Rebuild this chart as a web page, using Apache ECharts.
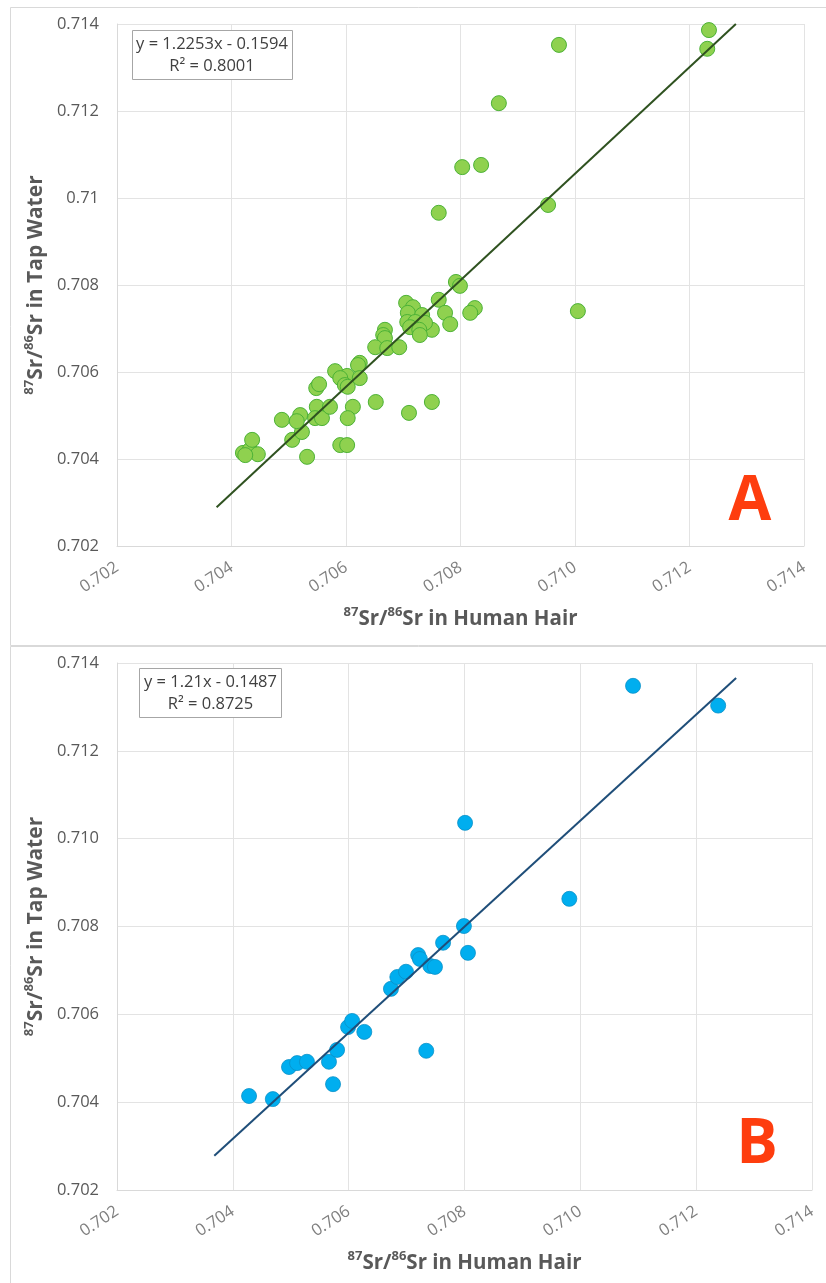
<!DOCTYPE html>
<html><head><meta charset="utf-8">
<script src="https://cdn.jsdelivr.net/npm/echarts@6/dist/echarts.min.js"></script>
<style>html,body{margin:0;padding:0;background:#fff}#c{width:826px;height:1283px}</style>
</head><body><div id="c"></div>
<script>
// Panel A: 87Sr/86Sr hair (x) vs tap water (y)
const hairA = [0.71234,0.71231,0.70972,0.70867,0.70803,0.70836,0.70762,0.70953,0.71005,0.70792,
  0.70799,0.70762,0.70825,0.70817,0.70773,0.70782,0.70750,0.70710,0.70750,0.70705,
  0.70717,0.70708,0.70733,0.70707,0.70721,0.70738,0.70712,0.70728,0.70729,0.70668,
  0.70665,0.70668,0.70651,0.70672,0.70693,0.70624,0.70420,0.70432,0.70436,0.70446,
  0.70424,0.70488,0.70532,0.70506,0.70523,0.70520,0.70514,0.70548,0.70553,0.70549,
  0.70546,0.70558,0.70572,0.70581,0.70602,0.70590,0.70598,0.70603,0.70621,0.70624,
  0.70612,0.70603,0.70590,0.70602,0.70652];
const waterA = [0.71386,0.71343,0.71352,0.71218,0.71071,0.71076,0.70966,0.70984,0.70740,0.70807,
  0.70798,0.70766,0.70747,0.70736,0.70736,0.70710,0.70697,0.70506,0.70531,0.70759,
  0.70749,0.70736,0.70731,0.70715,0.70715,0.70713,0.70703,0.70697,0.70685,0.70697,
  0.70685,0.70678,0.70657,0.70655,0.70657,0.70621,0.70414,0.70421,0.70444,0.70411,
  0.70409,0.70490,0.70405,0.70444,0.70462,0.70501,0.70487,0.70563,0.70572,0.70520,
  0.70494,0.70494,0.70520,0.70602,0.70591,0.70586,0.70570,0.70566,0.70616,0.70586,
  0.70520,0.70494,0.70432,0.70432,0.70531];
// Panel B
const hairB = [0.70428,0.70469,0.70497,0.70511,0.70528,0.70566,0.70580,0.70573,0.70599,0.70606,
  0.70627,0.70673,0.70684,0.70699,0.70720,0.70723,0.70741,0.70749,0.70763,0.70799,
  0.70806,0.70734,0.70801,0.70981,0.71091,0.71238];
const waterB = [0.70414,0.70407,0.70480,0.70489,0.70492,0.70492,0.70519,0.70441,0.70571,0.70585,
  0.70560,0.70658,0.70685,0.70697,0.70735,0.70726,0.70710,0.70708,0.70763,0.70801,
  0.70740,0.70517,0.71036,0.70863,0.71348,0.71303];
// Trendline endpoints as drawn (x, y)
const trendAx = [0.70374, 0.71281];
const trendAy = [0.70289, 0.71400];
const trendBx = [0.70368, 0.71269];
const trendBy = [0.70278, 0.71366];
// Tick labels
const xTicksA = ['0.702','0.704','0.706','0.708','0.710','0.712','0.714'];
const yTicksA = ['0.702','0.704','0.706','0.708','0.71','0.712','0.714'];
const xTicksB = ['0.702','0.704','0.706','0.708','0.710','0.712','0.714'];
const yTicksB = ['0.702','0.704','0.706','0.708','0.710','0.712','0.714'];
const eqA = ['y = 1.2253x - 0.1594', 'R² = 0.8001'];
const eqB = ['y = 1.21x - 0.1487', 'R² = 0.8725'];
const xTitle = ['87', 'Sr/', '86', 'Sr in Human Hair'];
const yTitle = ['87', 'Sr/', '86', 'Sr in Tap Water'];

const FONT = '"Open Sans", "DejaVu Sans", sans-serif';
const zip = (a, b) => a.map((v, i) => [v, b[i]]);
const fmt = (ticks) => (v) => ticks[Math.round((v - 0.702) / 0.002)] || '';
const titleRich = (s) => ({
  sup: {fontSize: 13, fontWeight: 'bold', color: '#595959', fontFamily: FONT, verticalAlign: 'top', lineHeight: 14},
  b: {fontSize: s, fontWeight: 'bold', color: '#595959', fontFamily: FONT, lineHeight: 26}
});
const titleStr = (t) => `{sup|${t[0]}}{b|${t[1]}}{sup|${t[2]}}{b|${t[3]}}`;

function xAxis(gi, ticks) {
  return {
    type: 'value', gridIndex: gi, min: 0.702, max: 0.714, interval: 0.002,
    name: titleStr(xTitle), nameLocation: 'middle', nameGap: 60,
    nameTextStyle: {rich: titleRich(20.5)},
    axisLine: {show: true, lineStyle: {color: '#d9d9d9', width: 1}},
    axisTick: {show: false},
    axisLabel: {formatter: fmt(ticks), rotate: 33, margin: 20, color: '#7f7f7f',
      fontSize: 16.5, fontFamily: FONT},
    splitLine: {show: true, lineStyle: {color: '#e3e3e3', width: 1}}
  };
}
function yAxis(gi, ticks) {
  return {
    type: 'value', gridIndex: gi, min: 0.702, max: 0.714, interval: 0.002,
    name: titleStr(yTitle), nameLocation: 'middle', nameGap: 55, nameRotate: 90,
    nameTextStyle: {rich: titleRich(21)},
    axisLine: {show: true, lineStyle: {color: '#d9d9d9', width: 1}},
    axisTick: {show: false},
    axisLabel: {formatter: fmt(ticks), margin: 18, color: '#595959',
      fontSize: 16.5, fontFamily: FONT},
    splitLine: {show: true, lineStyle: {color: '#e3e3e3', width: 1}}
  };
}

const chart = echarts.init(document.getElementById('c'), null, {renderer: 'canvas'});
chart.setOption({
  animation: false,
  backgroundColor: '#fff',
  grid: [
    {left: 117, right: 22, top: 24, height: 522},
    {left: 117, right: 14, top: 663, height: 527}
  ],
  xAxis: [xAxis(0, xTicksA), xAxis(1, xTicksB)],
  yAxis: [yAxis(0, yTicksA), yAxis(1, yTicksB)],
  series: [
    {type: 'scatter', xAxisIndex: 0, yAxisIndex: 0, data: zip(hairA, waterA),
      symbol: 'circle', symbolSize: 15, z: 2,
      itemStyle: {color: '#8fd14f', borderColor: '#4cb236', borderWidth: 1, opacity: 1}},
    {type: 'line', xAxisIndex: 0, yAxisIndex: 0, data: zip(trendAx, trendAy),
      showSymbol: false, symbol: 'none', z: 3, clip: true,
      lineStyle: {color: '#2f5220', width: 2}},
    {type: 'scatter', xAxisIndex: 1, yAxisIndex: 1, data: zip(hairB, waterB),
      symbol: 'circle', symbolSize: 15, z: 2,
      itemStyle: {color: '#00aeef', borderColor: '#0a90c8', borderWidth: 0.8, opacity: 1}},
    {type: 'line', xAxisIndex: 1, yAxisIndex: 1, data: zip(trendBx, trendBy),
      showSymbol: false, symbol: 'none', z: 3, clip: true,
      lineStyle: {color: '#1f4e79', width: 2}}
  ],
  graphic: [
    {type: 'rect', z: -10, shape: {x: 10.5, y: 7.5, width: 830, height: 638},
      style: {fill: 'none', stroke: '#d9d9d9', lineWidth: 1}},
    {type: 'rect', z: -10, shape: {x: 10.5, y: 646.5, width: 830, height: 650},
      style: {fill: 'none', stroke: '#d9d9d9', lineWidth: 1}},
    {type: 'rect', z: 10, shape: {x: 132.5, y: 30.5, width: 160, height: 49},
      style: {fill: '#fff', stroke: '#a6a6a6', lineWidth: 1}},
    {type: 'text', z: 11, x: 212, y: 55, style: {text: eqA.join('\n'), align: 'center',
      verticalAlign: 'middle', fontSize: 16.5, lineHeight: 22, fill: '#404040', fontFamily: FONT}},
    {type: 'rect', z: 10, shape: {x: 139.5, y: 668.5, width: 142, height: 49},
      style: {fill: '#fff', stroke: '#a6a6a6', lineWidth: 1}},
    {type: 'text', z: 11, x: 210.5, y: 693, style: {text: eqB.join('\n'), align: 'center',
      verticalAlign: 'middle', fontSize: 16.5, lineHeight: 22, fill: '#404040', fontFamily: FONT}},
    {type: 'text', z: 11, x: 750, y: 502, style: {text: 'A', align: 'center', verticalAlign: 'middle',
      fontSize: 62, fontWeight: 'bold', fill: '#fe3d0e', fontFamily: FONT}},
    {type: 'text', z: 11, x: 757, y: 1145, style: {text: 'B', align: 'center', verticalAlign: 'middle',
      fontSize: 62, fontWeight: 'bold', fill: '#fe3d0e', fontFamily: FONT}}
  ]
});
</script></body></html>
